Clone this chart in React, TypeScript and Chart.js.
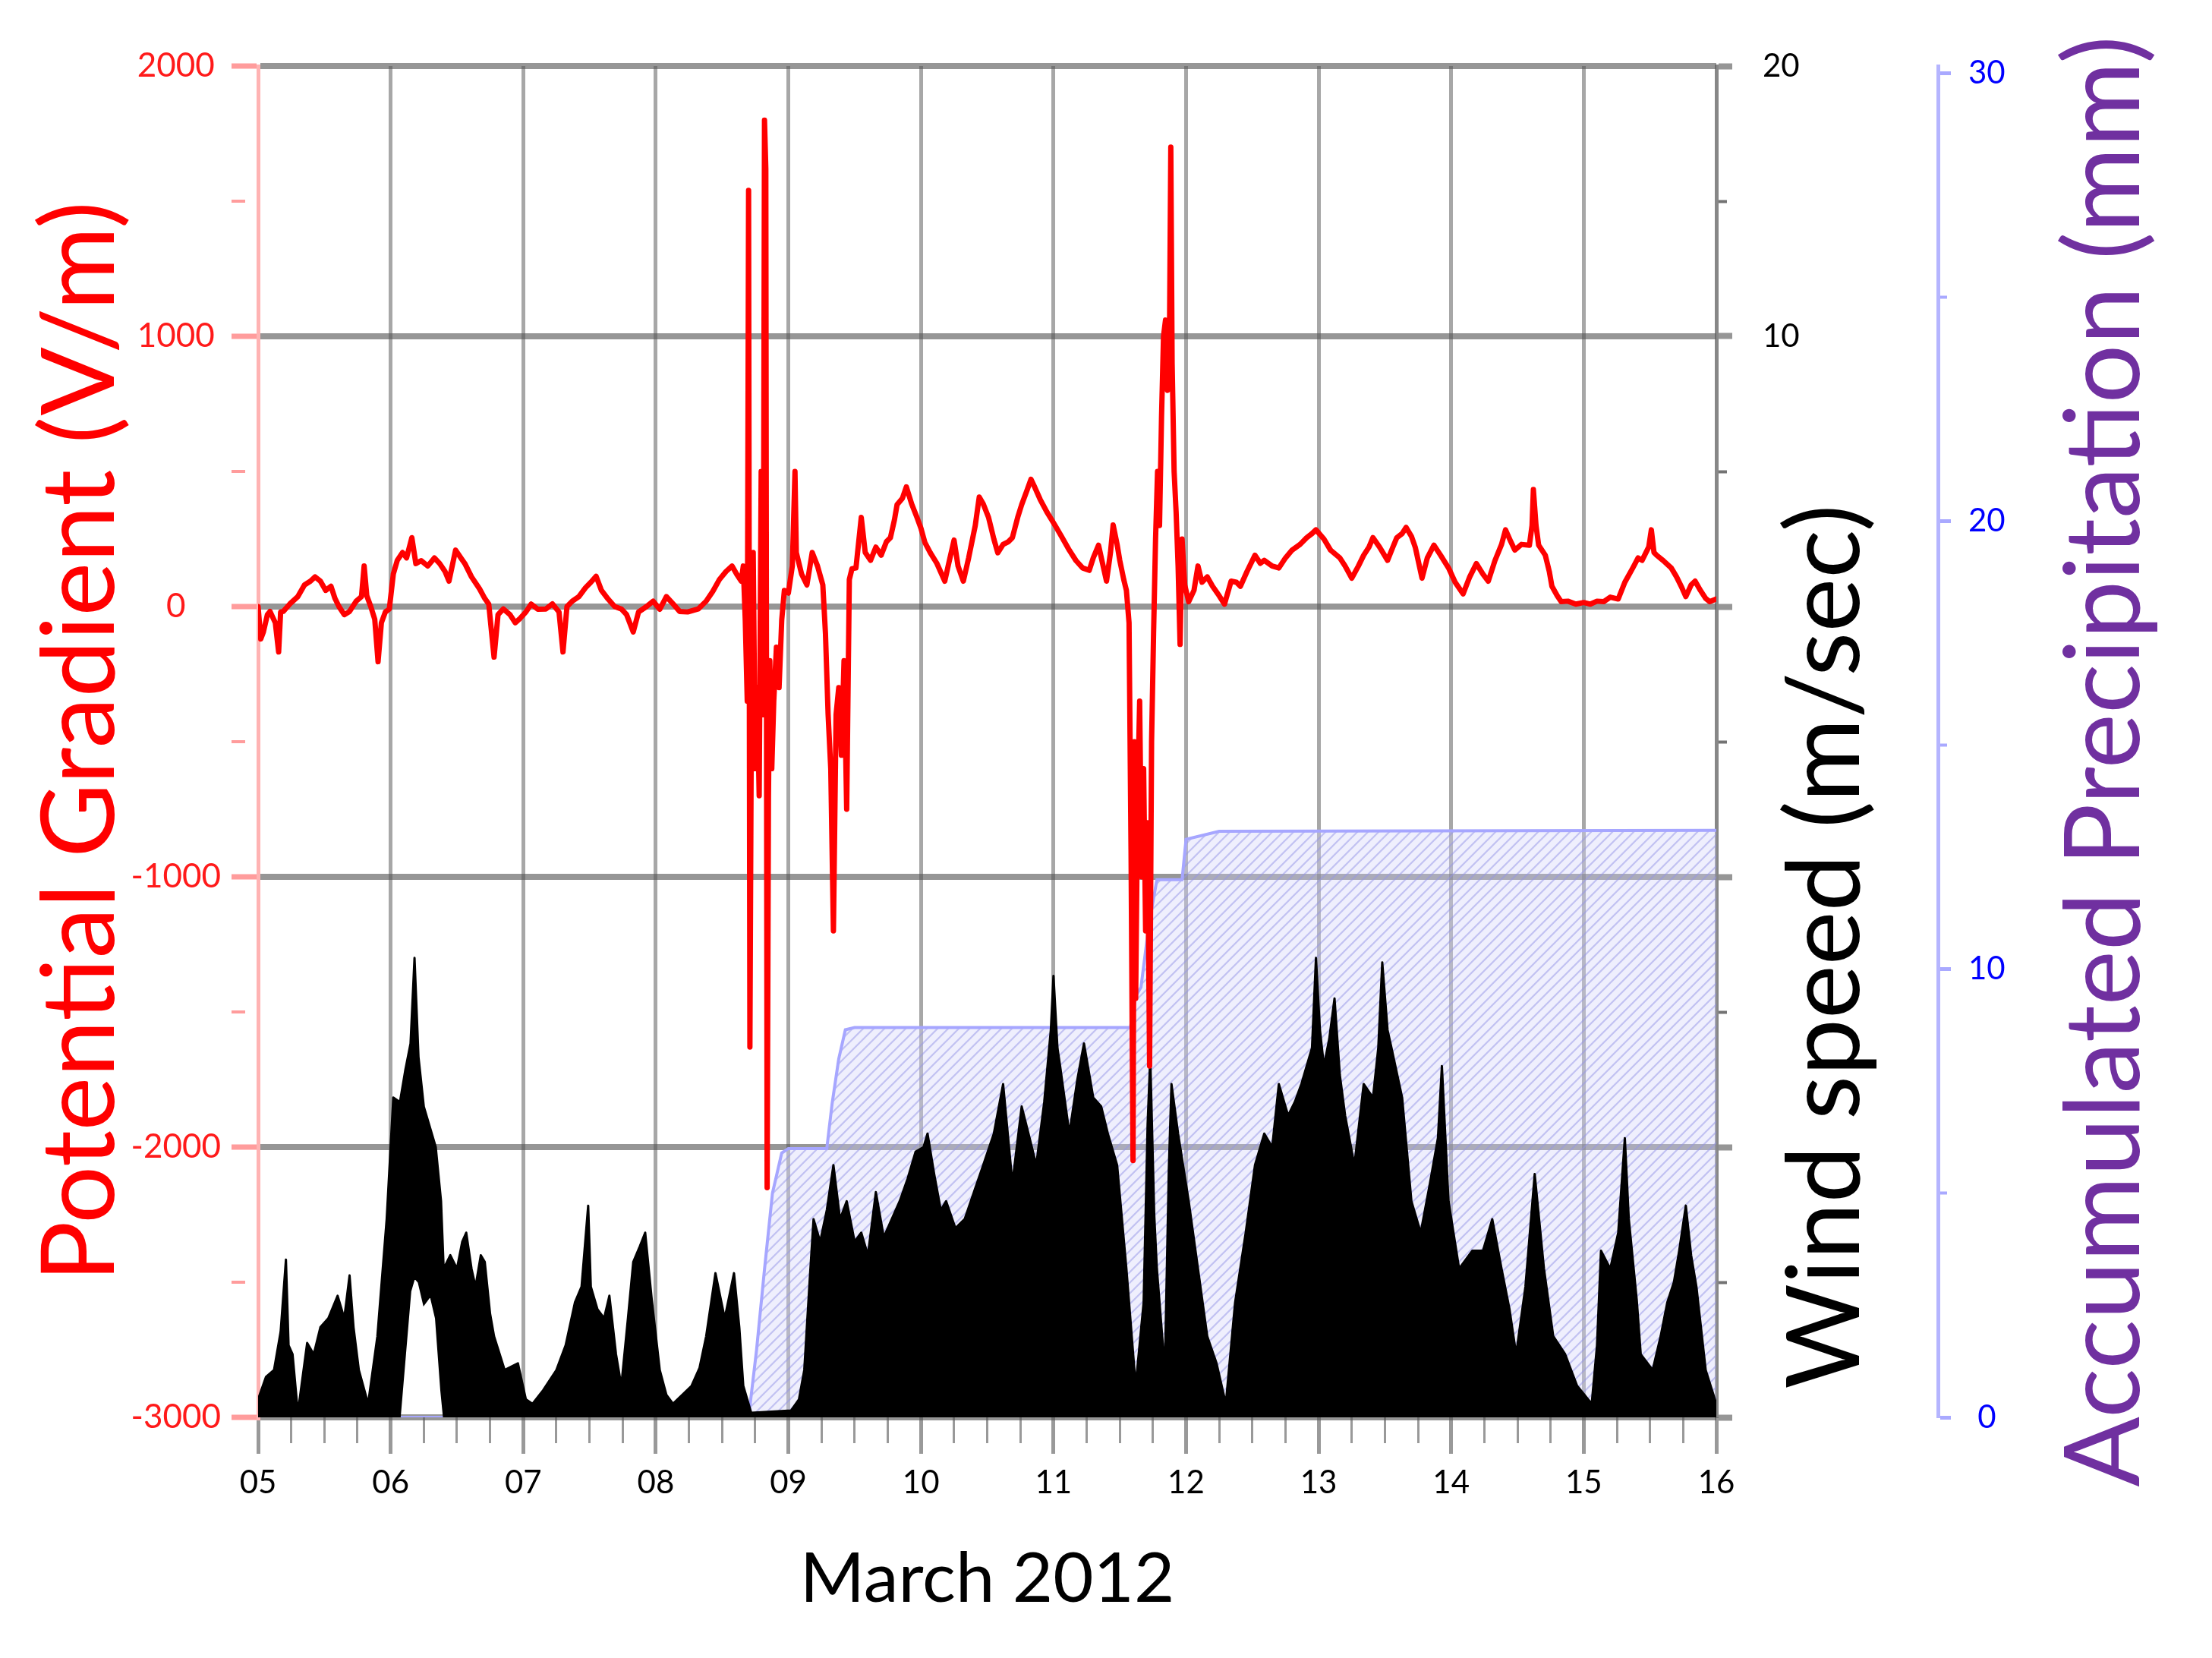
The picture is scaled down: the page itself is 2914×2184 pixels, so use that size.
import React, { useEffect, useRef } from 'react';
import { Chart, registerables } from 'chart.js';

Chart.register(...registerables);

// ---------- data (x = day of March 2012) ----------
const X_TICK_LABELS = ['05', '06', '07', '08', '09', '10', '11', '12', '13', '14', '15', '16'];
const PG_LABELED = [-3000, -2000, -1000, 0, 1000, 2000];
const WIND_LABELED = [10, 20];
const RAIN_LABELED = [0, 10, 20, 30];

const PG_TITLE = 'Potential Gradient (V/m)';
const WIND_TITLE = 'Wind speed (m/sec)';
const RAIN_TITLE = 'Accumulated Precipitation (mm)';
const X_TITLE = 'March 2012';

// Potential gradient (V/m): [day, value]
const PG_SERIES: [number, number][] = [
  [5.0, 0], [5.02, -120], [5.04, -94], [5.07, -30], [5.09, -18], [5.13, -60], [5.155, -168], [5.17, -20], [5.19, -18],
  [5.24, 10], [5.3, 37], [5.35, 80], [5.395, 94], [5.43, 110], [5.47, 94], [5.51, 60], [5.55, 75], [5.58, 30], [5.61, 0],
  [5.65, -30], [5.69, -18], [5.74, 20], [5.78, 37], [5.8, 150], [5.82, 40], [5.85, 0], [5.88, -47], [5.905, -204],
  [5.93, -60], [5.96, -20], [5.99, -9],
  [6.02, 120], [6.05, 171], [6.09, 200], [6.12, 180], [6.16, 255], [6.19, 159], [6.23, 170], [6.28, 150], [6.33, 180],
  [6.37, 159], [6.41, 130], [6.44, 94], [6.49, 209], [6.53, 180], [6.56, 159], [6.61, 110], [6.67, 66], [6.71, 30],
  [6.74, 9], [6.78, -187], [6.81, -30], [6.85, -9], [6.9, -30], [6.94, -60], [6.97, -47],
  [7.02, -20], [7.06, 9], [7.11, -10], [7.17, -9], [7.22, 10], [7.27, -20], [7.3, -168], [7.33, 0], [7.37, 20],
  [7.42, 37], [7.47, 70], [7.51, 90], [7.55, 112], [7.59, 60], [7.64, 28], [7.69, 0], [7.74, -9], [7.78, -30],
  [7.83, -94], [7.87, -20], [7.93, 0], [7.98, 20],
  [8.03, -10], [8.08, 37], [8.13, 10], [8.18, -18], [8.24, -20], [8.32, -9], [8.38, 20], [8.43, 56], [8.48, 100],
  [8.53, 130], [8.575, 150], [8.61, 120], [8.645, 94],
  [8.66, 150], [8.675, -50], [8.69, -350], [8.7, 1540], [8.71, -1630], [8.72, -500], [8.735, 200], [8.75, -600],
  [8.765, -300], [8.78, -700], [8.795, 500], [8.81, -400], [8.82, 1800], [8.83, 1620], [8.84, -2150], [8.85, -700],
  [8.86, -200], [8.875, -600], [8.89, -350], [8.91, -150], [8.93, -300], [8.95, -50], [8.97, 60],
  [9.0, 50], [9.03, 150], [9.05, 500], [9.06, 200], [9.1, 120], [9.14, 80], [9.18, 200], [9.22, 150], [9.26, 80],
  [9.28, -100], [9.3, -400], [9.32, -600], [9.34, -1200], [9.36, -400], [9.38, -300], [9.4, -550], [9.42, -200],
  [9.44, -750], [9.46, 100], [9.48, 140],
  [9.51, 143], [9.55, 330], [9.58, 200], [9.62, 171], [9.66, 220], [9.7, 190], [9.74, 240], [9.77, 255], [9.8, 320],
  [9.82, 377], [9.86, 400], [9.89, 443], [9.93, 380], [9.97, 330],
  [10.0, 290], [10.03, 237], [10.07, 200], [10.12, 160], [10.18, 94], [10.21, 160], [10.25, 246], [10.28, 150],
  [10.32, 94], [10.36, 180], [10.41, 300], [10.44, 405], [10.47, 380], [10.51, 330], [10.55, 250], [10.58, 199],
  [10.62, 230], [10.66, 240], [10.69, 255], [10.73, 330], [10.76, 377], [10.8, 430], [10.83, 471], [10.86, 440],
  [10.9, 396], [10.95, 350],
  [11.01, 302], [11.06, 260], [11.12, 208], [11.17, 170], [11.22, 143], [11.27, 134], [11.3, 180], [11.34, 227],
  [11.37, 160], [11.4, 94], [11.43, 200], [11.45, 302], [11.48, 230], [11.5, 171], [11.53, 100],
  [11.55, 60], [11.57, -60], [11.585, -900], [11.6, -2050], [11.61, -500], [11.62, -1450], [11.635, -700],
  [11.65, -350], [11.665, -1000], [11.68, -600], [11.695, -1200], [11.71, -800], [11.725, -1700], [11.74, -500],
  [11.755, -100], [11.77, 250], [11.785, 500], [11.8, 300], [11.815, 700], [11.83, 1000], [11.845, 1060],
  [11.86, 800], [11.875, 1000], [11.885, 1700], [11.895, 900], [11.91, 500], [11.925, 350], [11.94, 150],
  [11.955, -140], [11.97, 250], [11.99, 80],
  [12.02, 18], [12.06, 60], [12.09, 150], [12.12, 90], [12.16, 110], [12.2, 75], [12.25, 40], [12.29, 9], [12.34, 94],
  [12.38, 90], [12.41, 75], [12.46, 130], [12.52, 190], [12.56, 160], [12.59, 171], [12.65, 150], [12.7, 143],
  [12.75, 180], [12.8, 209], [12.86, 230], [12.91, 255], [12.95, 270], [12.98, 284],
  [13.04, 250], [13.09, 209], [13.16, 180], [13.2, 150], [13.25, 105], [13.3, 150], [13.34, 190], [13.38, 220],
  [13.41, 255], [13.46, 220], [13.52, 171], [13.56, 220], [13.59, 255], [13.63, 270], [13.66, 293], [13.7, 260],
  [13.73, 218], [13.76, 150], [13.78, 105], [13.82, 180], [13.87, 227], [13.92, 190], [13.98, 143],
  [14.03, 90], [14.09, 47], [14.14, 110], [14.19, 159], [14.24, 120], [14.28, 94], [14.33, 170], [14.38, 230],
  [14.41, 284], [14.45, 240], [14.48, 209], [14.53, 230], [14.59, 227], [14.61, 300], [14.62, 433], [14.64, 300],
  [14.66, 227], [14.71, 190], [14.74, 130], [14.76, 75], [14.8, 40], [14.83, 18], [14.88, 20], [14.94, 9],
  [15.0, 15], [15.05, 9], [15.1, 20], [15.15, 18], [15.2, 35], [15.26, 28], [15.31, 90], [15.37, 143], [15.41, 180],
  [15.44, 171], [15.49, 220], [15.51, 284], [15.53, 200], [15.55, 190], [15.6, 170], [15.66, 143], [15.7, 110],
  [15.74, 70], [15.77, 37], [15.81, 80], [15.84, 94], [15.88, 60], [15.92, 30], [15.95, 18], [16.0, 28],
];

// Wind speed envelope (m/s): [day, upper, lower]
const WIND_SERIES: [number, number, number][] = [
  [5.0, 0.4, 0], [5.06, 0.9, 0], [5.12, 1.05, 0], [5.17, 1.9, 0], [5.21, 3.5, 0], [5.23, 1.6, 0], [5.26, 1.4, 0],
  [5.3, 0.1, 0], [5.37, 1.65, 0], [5.42, 1.4, 0], [5.47, 2.0, 0], [5.53, 2.2, 0], [5.6, 2.7, 0], [5.65, 2.2, 0],
  [5.69, 3.15, 0], [5.72, 2.0, 0], [5.76, 1.05, 0], [5.83, 0.3, 0], [5.9, 1.8, 0], [5.97, 4.4, 0],
  [6.02, 7.1, 0], [6.07, 7.0, 0], [6.11, 7.7, 1.4], [6.15, 8.3, 2.8], [6.18, 10.2, 3.1], [6.21, 8.0, 3.0],
  [6.25, 6.9, 2.5], [6.3, 6.4, 2.7], [6.34, 6.0, 2.2], [6.38, 4.8, 0.6], [6.4, 3.3, 0], [6.45, 3.6, 0],
  [6.5, 3.3, 0], [6.54, 3.9, 0], [6.57, 4.1, 0], [6.61, 3.3, 0], [6.64, 2.9, 0], [6.68, 3.6, 0], [6.71, 3.45, 0],
  [6.75, 2.3, 0], [6.78, 1.8, 0], [6.86, 1.05, 0], [6.96, 1.2, 0],
  [7.02, 0.4, 0], [7.07, 0.3, 0], [7.15, 0.6, 0], [7.25, 1.05, 0], [7.32, 1.6, 0], [7.39, 2.55, 0], [7.44, 2.9, 0],
  [7.49, 4.7, 0], [7.51, 2.9, 0], [7.56, 2.4, 0], [7.61, 2.2, 0], [7.65, 2.7, 0], [7.7, 1.4, 0], [7.74, 0.7, 0],
  [7.79, 2.2, 0], [7.83, 3.45, 0], [7.88, 3.8, 0], [7.92, 4.1, 0], [7.97, 2.6, 0],
  [8.03, 1.05, 0], [8.08, 0.5, 0], [8.13, 0.3, 0], [8.27, 0.7, 0], [8.33, 1.1, 0], [8.38, 1.8, 0], [8.45, 3.2, 0],
  [8.52, 2.2, 0], [8.59, 3.2, 0], [8.63, 2.0, 0], [8.66, 0.7, 0], [8.72, 0.1, 0],
  [9.02, 0.15, 0], [9.08, 0.4, 0], [9.12, 1.05, 0], [9.16, 3.0, 0], [9.19, 4.4, 0], [9.24, 3.9, 0], [9.29, 4.6, 0],
  [9.34, 5.6, 0], [9.39, 4.4, 0], [9.44, 4.8, 0], [9.5, 3.9, 0], [9.55, 4.1, 0], [9.6, 3.6, 0],
  [9.66, 5.0, 0], [9.72, 4.0, 0], [9.78, 4.4, 0], [9.84, 4.8, 0], [9.9, 5.3, 0], [9.96, 5.9, 0],
  [10.02, 6.0, 0], [10.05, 6.3, 0], [10.1, 5.4, 0], [10.15, 4.6, 0], [10.19, 4.8, 0], [10.26, 4.2, 0],
  [10.33, 4.4, 0], [10.4, 5.0, 0], [10.47, 5.6, 0], [10.55, 6.3, 0], [10.62, 7.4, 0], [10.69, 5.2, 0],
  [10.76, 6.9, 0], [10.82, 6.2, 0], [10.87, 5.6, 0], [10.93, 7.0, 0], [10.98, 8.6, 0],
  [11.0, 9.8, 0], [11.03, 8.2, 0], [11.05, 7.8, 0], [11.12, 6.3, 0], [11.18, 7.5, 0], [11.23, 8.3, 0],
  [11.3, 7.1, 0], [11.36, 6.9, 0], [11.41, 6.3, 0], [11.48, 5.6, 0], [11.55, 3.3, 0], [11.62, 0.7, 0],
  [11.68, 2.55, 0], [11.71, 6.5, 0], [11.73, 8.0, 0], [11.76, 4.5, 0], [11.78, 3.3, 0], [11.84, 1.05, 0],
  [11.87, 5.5, 0], [11.89, 7.4, 0], [11.94, 6.3, 0],
  [12.02, 4.8, 0], [12.09, 3.3, 0], [12.16, 1.8, 0], [12.23, 1.2, 0], [12.3, 0.3, 0], [12.37, 2.55, 0],
  [12.45, 4.1, 0], [12.52, 5.6, 0], [12.59, 6.3, 0], [12.65, 6.0, 0], [12.7, 7.4, 0], [12.77, 6.7, 0],
  [12.82, 7.0, 0], [12.87, 7.4, 0], [12.95, 8.2, 0], [12.98, 10.2, 0],
  [13.01, 8.6, 0], [13.04, 7.8, 0], [13.08, 8.4, 0], [13.12, 9.3, 0], [13.16, 7.6, 0], [13.2, 6.7, 0],
  [13.27, 5.6, 0], [13.34, 7.4, 0], [13.41, 7.1, 0], [13.45, 8.2, 0], [13.48, 10.1, 0], [13.52, 8.6, 0],
  [13.55, 8.2, 0], [13.63, 7.1, 0], [13.7, 4.8, 0], [13.77, 4.1, 0], [13.84, 5.2, 0], [13.9, 6.2, 0],
  [13.93, 7.8, 0], [13.98, 4.8, 0],
  [14.06, 3.3, 0], [14.16, 3.7, 0], [14.24, 3.7, 0], [14.31, 4.4, 0], [14.38, 3.3, 0], [14.44, 2.4, 0],
  [14.49, 1.4, 0], [14.56, 2.9, 0], [14.63, 5.4, 0], [14.7, 3.3, 0], [14.77, 1.8, 0], [14.86, 1.4, 0], [14.95, 0.7, 0],
  [15.06, 0.3, 0], [15.1, 1.6, 0], [15.13, 3.7, 0], [15.2, 3.3, 0], [15.26, 4.1, 0], [15.31, 6.2, 0], [15.34, 4.4, 0],
  [15.4, 2.6, 0], [15.43, 1.4, 0], [15.52, 1.05, 0], [15.58, 1.8, 0], [15.63, 2.55, 0], [15.68, 3.0, 0],
  [15.72, 3.7, 0], [15.77, 4.7, 0], [15.81, 3.6, 0], [15.85, 2.9, 0], [15.92, 1.05, 0], [16.0, 0.3, 0],
];

// Accumulated precipitation (mm): [day, value]
const RAIN_SERIES: [number, number][] = [
  [5.0, 0], [8.7, 0], [8.76, 1.5], [8.82, 3.3], [8.88, 5.0], [8.95, 5.9], [9.0, 6.0], [9.29, 6.0], [9.33, 7.0],
  [9.38, 8.0], [9.43, 8.65], [9.5, 8.7], [11.58, 8.7], [11.62, 9.4], [11.66, 9.6], [11.72, 11.0], [11.78, 12.0],
  [11.97, 12.0], [12.0, 12.9], [12.25, 13.08], [16.0, 13.1],
];

// ---------- styling ----------
const FONT = 'Lato, "Open Sans", sans-serif';
const GRID_H = 'rgba(85,85,85,0.62)';
const GRID_V = 'rgba(95,95,95,0.55)';
const NONE = 'rgba(0,0,0,0)';
const isMult = (v: number, m: number) => Math.abs(v / m - Math.round(v / m)) < 1e-6;
const tv = (c: any) => (c && c.tick ? c.tick.value : 0);

const sideTitles = {
  id: 'sideTitles',
  afterDraw(chart: any) {
    const { ctx, chartArea } = chart;
    const w = chart.scales.yWindAxis;
    const r = chart.scales.yRain;
    const draw = (text: string, x: number, y: number, color: string, size: number) => {
      ctx.save();
      ctx.translate(x, y);
      ctx.rotate(-Math.PI / 2);
      ctx.font = `${size}px ${FONT}`;
      ctx.fillStyle = color;
      ctx.textAlign = 'center';
      ctx.textBaseline = 'middle';
      ctx.fillText(text, 0, 0);
      ctx.restore();
    };
    draw(WIND_TITLE, w.left + 145, chartArea.bottom - 620, '#000000', 134);
    draw(RAIN_TITLE, r.left + 221, chartArea.top + 916, '#7030a0', 137);
  },
};

export default function App() {
  const ref = useRef<HTMLCanvasElement>(null);

  useEffect(() => {
    const canvas = ref.current;
    if (!canvas) return;
    const ctx = canvas.getContext('2d')!;

    const tile = document.createElement('canvas');
    tile.width = 14;
    tile.height = 14;
    const t = tile.getContext('2d')!;
    t.fillStyle = 'rgba(210,210,250,0.36)';
    t.fillRect(0, 0, 14, 14);
    t.strokeStyle = 'rgba(150,150,232,0.5)';
    t.lineWidth = 2.2;
    t.beginPath();
    t.moveTo(0, 14); t.lineTo(14, 0);
    t.moveTo(-2, 2); t.lineTo(2, -2);
    t.moveTo(12, 16); t.lineTo(16, 12);
    t.stroke();
    const hatch = ctx.createPattern(tile, 'repeat')!;

    const chart = new Chart(canvas, {
      type: 'line',
      data: {
        datasets: [
          {
            label: 'Potential Gradient',
            data: PG_SERIES.map(([x, y]) => ({ x, y })),
            yAxisID: 'yPG',
            borderColor: '#ff0000',
            borderWidth: 7,
            borderJoinStyle: 'round',
            borderCapStyle: 'round',
            pointRadius: 0,
            fill: false,
            order: 1,
          },
          {
            label: 'Wind speed (upper)',
            data: WIND_SERIES.map(([x, hi]) => ({ x, y: hi })),
            yAxisID: 'yWind',
            borderColor: '#000000',
            borderWidth: 3,
            borderJoinStyle: 'round',
            backgroundColor: '#000000',
            pointRadius: 0,
            fill: '+1',
            order: 2,
          },
          {
            label: 'Wind speed (lower)',
            data: WIND_SERIES.map(([x, , lo]) => ({ x, y: lo })),
            yAxisID: 'yWind',
            borderColor: '#000000',
            borderWidth: 2,
            pointRadius: 0,
            fill: false,
            order: 3,
          },
          {
            label: 'Accumulated Precipitation',
            data: RAIN_SERIES.map(([x, y]) => ({ x, y })),
            yAxisID: 'yRain',
            borderColor: '#a6a6ff',
            borderWidth: 4,
            backgroundColor: hatch as any,
            pointRadius: 0,
            fill: 'origin',
            order: 4,
          },
        ],
      },
      options: {
        animation: false,
        responsive: true,
        maintainAspectRatio: false,
        events: [],
        layout: { padding: { top: 87, right: 0, bottom: 0, left: 0 } },
        plugins: {
          legend: { display: false },
          tooltip: { enabled: false },
        },
        scales: {
          x: {
            type: 'linear',
            position: 'bottom',
            min: 5,
            max: 16,
            ticks: {
              stepSize: 0.25,
              autoSkip: false,
              maxRotation: 0,
              minRotation: 0,
              padding: 13,
              color: '#000000',
              font: { family: FONT, size: 42 },
              callback: (v: any) => (isMult(Number(v), 1) ? X_TICK_LABELS[Math.round(Number(v)) - 5] : ''),
            },
            grid: {
              color: (c: any) => {
                const v = tv(c);
                return isMult(v, 1) && v > 5.01 && v < 15.99 ? GRID_V : NONE;
              },
              lineWidth: 5,
              tickColor: 'rgba(110,110,110,0.7)',
              tickWidth: (c: any) => (isMult(tv(c), 1) ? 5 : 3),
              tickLength: 48,
              tickBorderDash: (c: any) => (isMult(tv(c), 1) ? [] : [34, 400]),
            } as any,
            border: { display: false },
            title: {
              display: true,
              text: X_TITLE,
              color: '#000000',
              font: { family: FONT, size: 92 },
              padding: { top: 0, bottom: 48 },
            },
            afterFit: (s: any) => { s.height = 317; },
          },
          yPG: {
            type: 'linear',
            position: 'left',
            min: -3000,
            max: 2000,
            ticks: {
              stepSize: 500,
              autoSkip: false,
              crossAlign: 'center',
              padding: 14,
              color: '#ff1a1a',
              font: { family: FONT, size: 44 },
              callback: (v: any) => (PG_LABELED.includes(Number(v)) ? String(v) : ''),
            },
            grid: {
              color: (c: any) => (isMult(tv(c), 1000) ? GRID_H : NONE),
              lineWidth: 8,
              tickColor: '#ff9c9c',
              tickWidth: (c: any) => (isMult(tv(c), 1000) ? 7 : 4),
              tickLength: 35,
              tickBorderDash: (c: any) => (isMult(tv(c), 1000) ? [] : [18, 400]),
            } as any,
            border: { color: '#ffb3b3', width: 5 },
            title: {
              display: true,
              text: PG_TITLE,
              color: '#ff0000',
              font: { family: FONT, size: 134 },
              padding: { top: 26, bottom: 0 },
            },
            afterFit: (s: any) => { s.width = 340; },
          },
          yWindAxis: {
            type: 'linear',
            position: 'right',
            weight: 0,
            min: -30,
            max: 20,
            ticks: {
              stepSize: 5,
              autoSkip: false,
              crossAlign: 'center',
              padding: 40,
              color: '#000000',
              font: { family: FONT, size: 42 },
              callback: (v: any) => (WIND_LABELED.includes(Number(v)) ? String(v) : ''),
            },
            grid: {
              drawOnChartArea: false,
              tickColor: (c: any) => (isMult(tv(c), 10) ? GRID_H : 'rgba(80,80,80,0.8)'),
              tickWidth: (c: any) => (isMult(tv(c), 10) ? 8 : 4),
              tickLength: 21,
              tickBorderDash: (c: any) => (isMult(tv(c), 10) ? [] : [11, 400]),
            } as any,
            border: { color: 'rgba(95,95,95,0.75)', width: 5 },
            afterFit: (s: any) => { s.width = 292; },
          },
          yWind: {
            type: 'linear',
            display: false,
            min: 0,
            max: 30,
          },
          yRain: {
            type: 'linear',
            position: 'right',
            weight: 1,
            min: 0,
            max: 30.16,
            bounds: 'data',
            ticks: {
              stepSize: 5,
              includeBounds: false,
              autoSkip: false,
              crossAlign: 'center',
              padding: 23,
              color: '#0000ff',
              font: { family: FONT, size: 42 },
              callback: (v: any) => (RAIN_LABELED.includes(Number(v)) ? String(v) : ''),
            },
            grid: {
              drawOnChartArea: false,
              tickColor: '#a9a9ff',
              tickWidth: (c: any) => (isMult(tv(c), 10) ? 5 : 4),
              tickLength: 17,
              tickBorderDash: (c: any) => (isMult(tv(c), 10) ? [] : [9, 400]),
            } as any,
            border: { color: '#b5b5ff', width: 5 },
            afterFit: (s: any) => { s.width = 361; },
          },
        } as any,
      },
      plugins: [sideTitles],
    });

    return () => chart.destroy();
  }, []);

  return (
    <div style={{ position: 'fixed', left: 0, top: 0, width: 2914, height: 2184, background: '#ffffff' }}>
      <canvas ref={ref} />
    </div>
  );
}
